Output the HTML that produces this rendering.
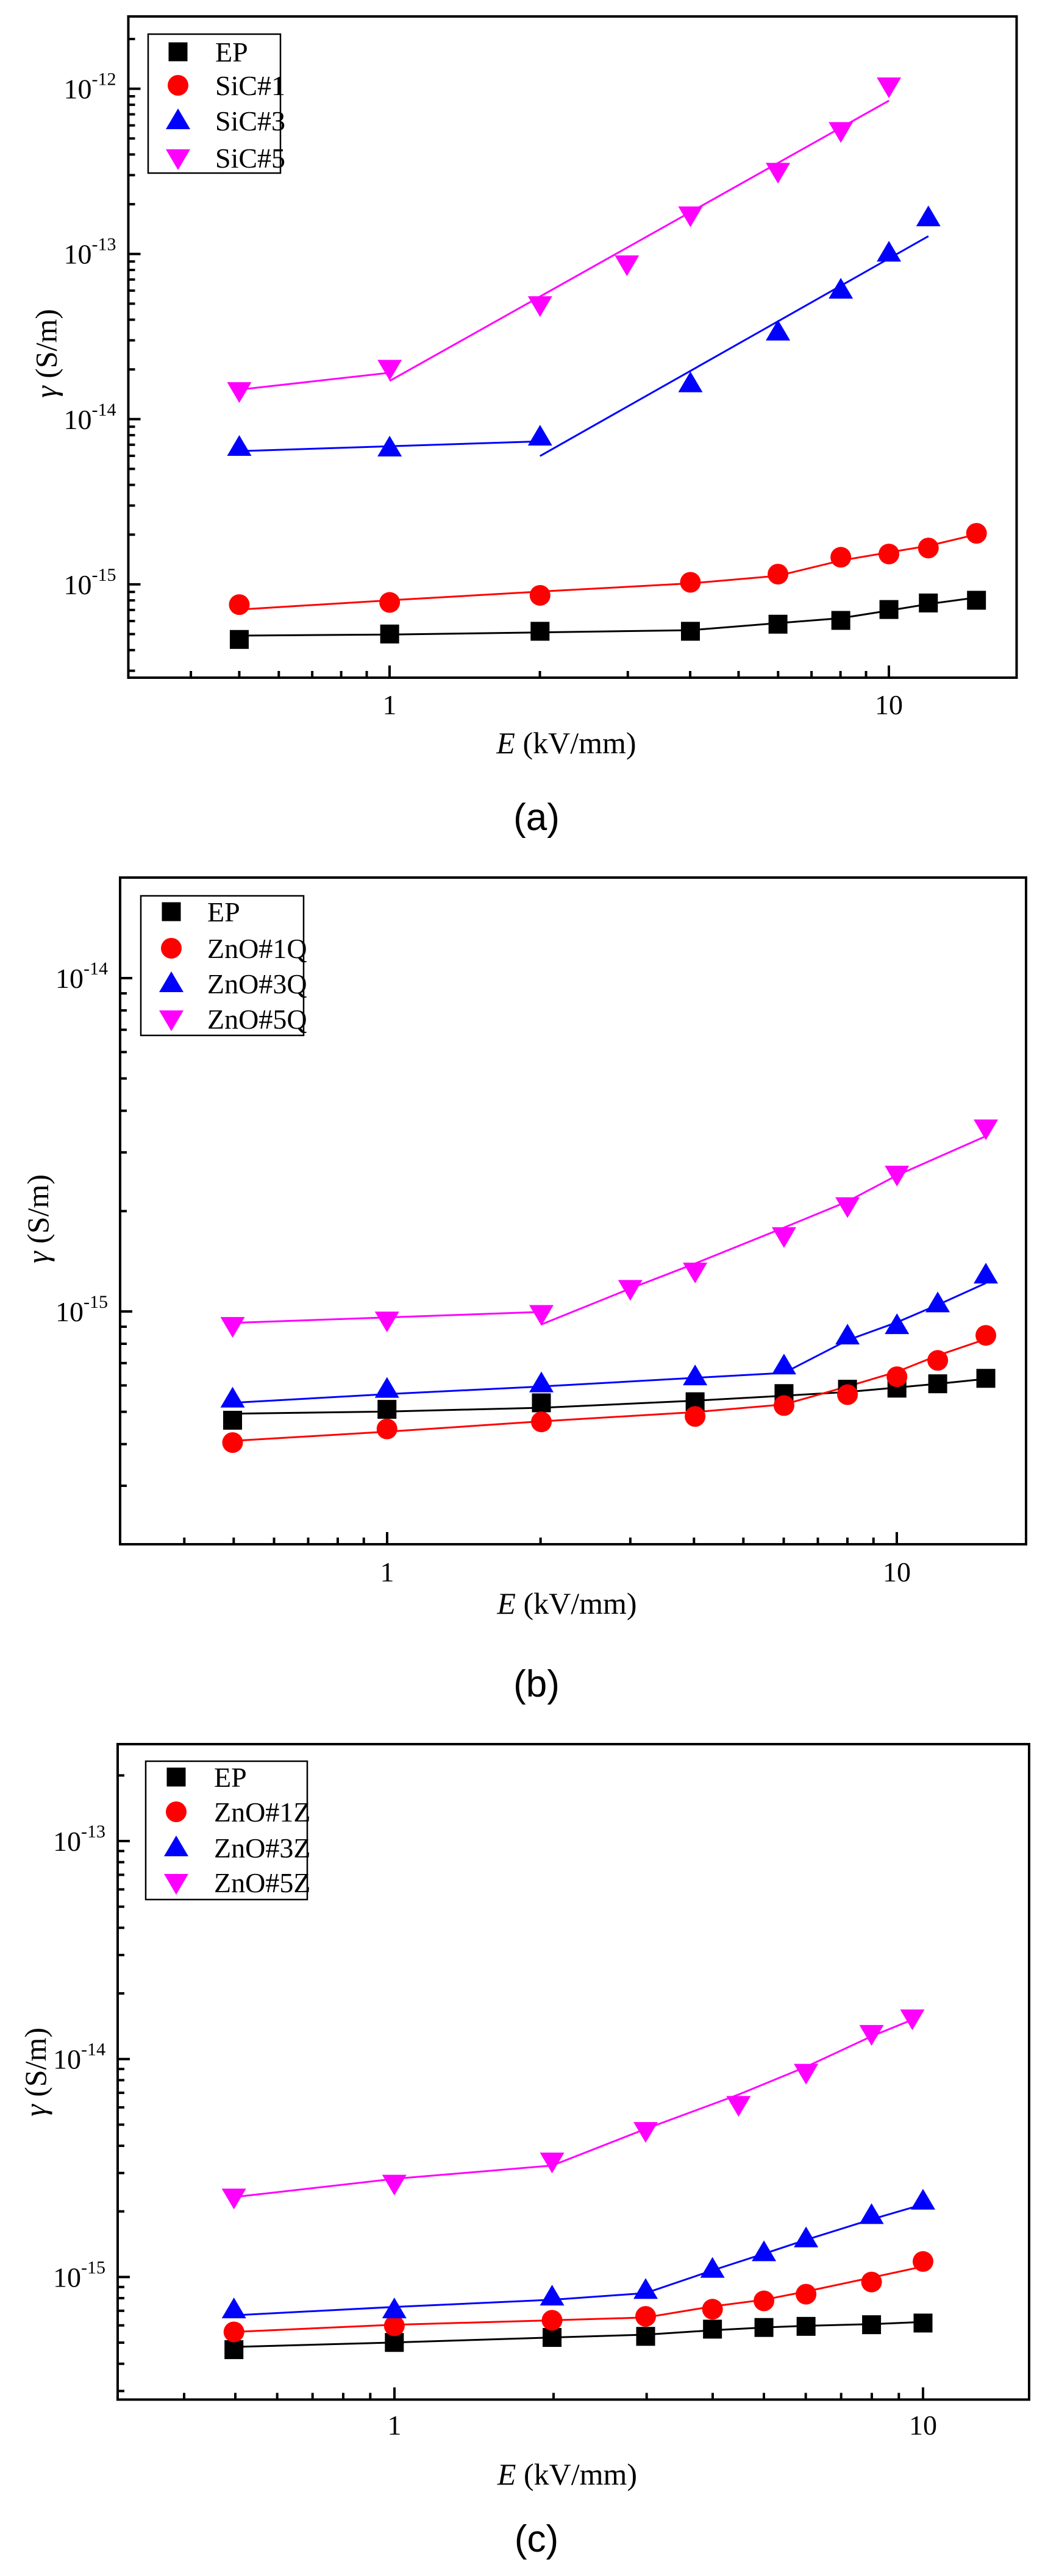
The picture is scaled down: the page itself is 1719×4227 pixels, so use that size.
<!DOCTYPE html>
<html><head><meta charset="utf-8"><style>
html,body{margin:0;padding:0;background:#fff}
svg{display:block}
text{font-family:"Liberation Serif",serif;fill:#000}
</style></head><body>
<svg id="s" xmlns="http://www.w3.org/2000/svg" width="1719" height="4227" viewBox="0 0 1719 4227"></svg>
<script>
const S=document.getElementById('s');let h='';
const SX=1719/1568;
const panels=[
{off:0,f:0.893,L:210.5,R:1667.5,T:27,B:1112,x1:639,dx:819,yref:145.6,yrefE:-12,dy:271.1,
 yticks:[-12,-13,-14,-15],lab:'(a)',tickY:1156,eY:1219,capY:1340,ytY:580,
 leg:{x0:243,y0:56,x1:460,y1:284,mx:292,tx:353,rows:[85,140,198,259]},
 names:['EP','SiC#1','SiC#3','SiC#5'],
 series:[
 {c:'#000',m:'sq',p:[[358,1175],[583,1165],[808,1160],[1033,1160],[1164,1147],[1258,1140],[1330,1120],[1389,1108],[1461,1103]],
  l:[[[358,1168],[583,1166],[808,1162],[1033,1158],[1164,1145],[1258,1136],[1330,1122],[1389,1110],[1461,1098]]]},
 {c:'#f00',m:'ci',p:[[358,1111],[583,1107],[808,1094],[1033,1070],[1164,1055],[1258,1024],[1330,1018],[1389,1007],[1461,980]],
  l:[[[358,1120],[583,1103],[808,1087],[1033,1072],[1164,1058],[1258,1030],[1330,1015],[1389,1003],[1461,982]]]},
 {c:'#00f',m:'up',p:[[358,822],[583,823],[808,803],[1033,705],[1164,610],[1258,533],[1330,465],[1389,400]],
  l:[[[358,829],[808,811]],[[808,838],[1389,434]]]},
 {c:'#f0f',m:'dn',p:[[358,718],[583,677],[808,560],[938,485],[1033,395],[1164,315],[1258,240],[1330,158]],
  l:[[[358,716],[583,685]],[[583,700],[1330,185]]]}]},
{off:1400,f:0.893,L:197,R:1683,T:1440,B:2534,x1:635,dx:836,yref:1605,yrefE:-14,dy:547,
 yticks:[-14,-15],lab:'(b)',tickY:2579,eY:2631,capY:2762,ytY:2000,
 leg:{x0:231,y0:1470,x1:498,y1:1699,mx:281,tx:340,rows:[1496,1556,1614,1672]},
 names:['EP','ZnO#1Q','ZnO#3Q','ZnO#5Q'],
 series:[
 {c:'#000',m:'sq',p:[[348,1042],[579,1022],[810,1010],[1040,1008],[1173,993],[1268,985],[1342,983],[1403,975],[1475,965]],
  l:[[[348,1030],[579,1026],[810,1019],[1040,1006],[1173,997],[1268,990],[1342,982],[1403,975],[1475,966]]]},
 {c:'#f00',m:'ci',p:[[348,1083],[579,1058],[810,1045],[1040,1035],[1173,1015],[1268,995],[1342,962],[1403,932],[1475,886]],
  l:[[[348,1080],[579,1063],[810,1044],[1040,1027],[1173,1013],[1268,980],[1342,953],[1403,923],[1475,893]]]},
 {c:'#00f',m:'up',p:[[348,1003],[579,985],[810,975],[1040,962],[1173,942],[1268,887],[1342,868],[1403,828],[1475,775]],
  l:[[[348,1010],[579,994],[810,980],[1040,964],[1173,955],[1268,895],[1342,862],[1403,830],[1475,790]]]},
 {c:'#f0f',m:'dn',p:[[348,868],[579,858],[810,846],[943,800],[1040,768],[1173,703],[1268,648],[1342,590],[1475,505]],
  l:[[[348,863],[810,843]],[[810,866],[943,800],[1040,754],[1173,688],[1268,640],[1342,592],[1475,520]]]}]},
{off:2800,f:0.91,L:193,R:1688,T:2862,B:3937.5,x1:647,dx:867,yref:3021,yrefE:-13,dy:357.7,
 yticks:[-13,-14,-15],lab:'(c)',tickY:3979,eY:4060,capY:4165,ytY:3400,
 leg:{x0:239,y0:2890,x1:504,y1:3117,mx:289,tx:351,rows:[2916,2973,3032,3089]},
 names:['EP','ZnO#1Z','ZnO#3Z','ZnO#5Z'],
 series:[
 {c:'#000',m:'sq',p:[[350,1160],[590,1147],[826,1138],[966,1136],[1066,1123],[1143,1120],[1206,1118],[1304,1115],[1381,1112]],
  l:[[[350,1155],[590,1147],[826,1138],[966,1133],[1066,1125],[1143,1120],[1206,1117],[1304,1114],[1381,1110]]]},
 {c:'#f00',m:'ci',p:[[350,1128],[590,1117],[826,1107],[966,1100],[1066,1087],[1143,1072],[1206,1060],[1304,1038],[1381,1001]],
  l:[[[350,1128],[590,1115],[826,1107],[966,1102],[1066,1082],[1143,1070],[1206,1055],[1304,1030],[1381,1010]]]},
 {c:'#00f',m:'up',p:[[350,1088],[590,1088],[826,1065],[966,1053],[1066,1015],[1143,985],[1206,960],[1304,918],[1381,892]],
  l:[[[350,1098],[590,1083],[826,1070],[966,1058],[1066,1017],[1143,987],[1206,962],[1304,925],[1381,898]]]},
 {c:'#f0f',m:'dn',p:[[350,885],[590,860],[826,820],[966,765],[1105,718],[1206,660],[1304,590],[1365,562]],
  l:[[[350,885],[590,852],[826,828],[966,762],[1105,700],[1206,650],[1304,595],[1365,565]]]}]}
];
function mk(m,x,y,c){
 if(m==='sq')return `<rect x="${x-15.5}" y="${y-15.5}" width="31" height="31" fill="${c}"/>`;
 if(m==='ci')return `<circle cx="${x}" cy="${y}" r="17" fill="${c}"/>`;
 if(m==='up')return `<polygon points="${x},${y-20} ${x-20},${y+14} ${x+20},${y+14}" fill="${c}"/>`;
 return `<polygon points="${x},${y+20} ${x-20},${y-14} ${x+20},${y-14}" fill="${c}"/>`;
}
for(const P of panels){
 const cx=d=>d*SX, cy=d=>P.off+d*P.f;
 // series lines
 for(const s of P.series){
  for(const seg of s.l){h+=`<polyline points="${seg.map(q=>cx(q[0]).toFixed(1)+','+cy(q[1]).toFixed(1)).join(' ')}" fill="none" stroke="${s.c}" stroke-width="3"/>`;}
 }
 for(const s of P.series){for(const q of s.p)h+=mk(s.m,cx(q[0]),cy(q[1]),s.c);}
 // frame
 h+=`<rect x="${P.L}" y="${P.T}" width="${P.R-P.L}" height="${P.B-P.T}" fill="none" stroke="#000" stroke-width="4"/>`;
 // x ticks
 for(let e=-1;e<=1;e++)for(let k=1;k<=9;k++){
  const v=k*Math.pow(10,e);const x=P.x1+P.dx*Math.log10(v);
  if(x<P.L+3||x>P.R-3)continue;
  const len=k===1?20:11;
  h+=`<line x1="${x}" y1="${P.B}" x2="${x}" y2="${P.B-len}" stroke="#000" stroke-width="4"/>`;
 }
 h+=`<text x="${P.x1}" y="${P.tickY+16}" font-size="46" text-anchor="middle">1</text>`;
 h+=`<text x="${P.x1+P.dx}" y="${P.tickY+16}" font-size="46" text-anchor="middle">10</text>`;
 // y ticks
 for(let e=-17;e<=-10;e++)for(let k=1;k<=9;k++){
  const lg=e+Math.log10(k);const y=P.yref-(lg-P.yrefE)*P.dy;
  if(y<P.T+3||y>P.B-3)continue;
  const len=k===1?20:11;
  h+=`<line x1="${P.L}" y1="${y}" x2="${P.L+len}" y2="${y}" stroke="#000" stroke-width="4"/>`;
 }
 for(const e of P.yticks){const y=P.yref-(e-P.yrefE)*P.dy;
  h+=`<text x="${P.L-20}" y="${y+16}" font-size="46" text-anchor="end">10<tspan dy="-22" font-size="30">${e}</tspan></text>`;}
 // axis titles
 h+=`<text x="${(P.L+P.R)/2-10}" y="${P.eY+17}" font-size="50" text-anchor="middle"><tspan font-style="italic">E</tspan>  (kV/mm)</text>`;
 h+=`<text transform="translate(${P.L-118},${P.ytY}) rotate(-90)" font-size="50" text-anchor="middle"><tspan font-style="italic">γ</tspan>  (S/m)</text>`;
 h+=`<text x="880" y="${P.capY+22}" font-size="62" text-anchor="middle" style="font-family:'Liberation Sans',sans-serif">${P.lab}</text>`;
 // legend
 const g=P.leg;
 h+=`<rect x="${g.x0}" y="${g.y0}" width="${g.x1-g.x0}" height="${g.y1-g.y0}" fill="#fff" stroke="#000" stroke-width="2.5"/>`;
 P.series.forEach((s,i)=>{h+=mk(s.m,g.mx,g.rows[i],s.c);h+=`<text x="${g.tx}" y="${g.rows[i]+16}" font-size="46">${P.names[i]}</text>`;});
}
S.innerHTML=h;
</script>
</body></html>
